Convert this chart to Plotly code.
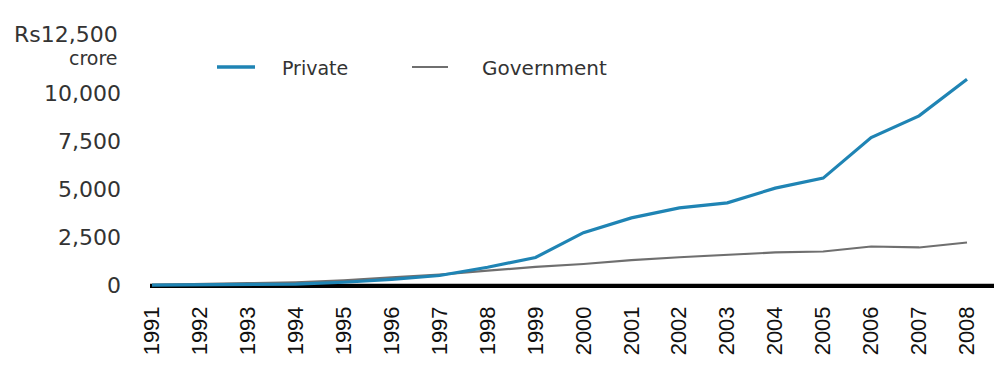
import plotly.graph_objects as go

years = list(range(1991, 2009))
private = [0, 10, 20, 50, 150, 300, 500, 930, 1440, 2730, 3500, 4020, 4280, 5050, 5570, 7680, 8810, 10720]
government = [20, 50, 100, 150, 250, 400, 550, 750, 950, 1100, 1300, 1450, 1560, 1700, 1750, 2010, 1960, 2220]
y_ticks = [0, 2500, 5000, 7500, 10000]
y_labels = ["0", "2,500", "5,000", "7,500", "10,000"]

PLOT_W = 994 - 148
PLOT_H = 376 - 45 - 88

def px(x):
    return (x - 148) / PLOT_W

def py(y):
    return 1 - (y - 45) / PLOT_H

LABEL_FONT = "DejaVu Sans"

fig = go.Figure()
fig.add_shape(type="line", xref="paper", x0=px(150), x1=1, yref="y", y0=-60, y1=-60,
              line=dict(color="black", width=5), layer="below")
fig.add_trace(go.Scatter(x=years, y=government, name="Government", mode="lines",
                         line=dict(color="#6f6f6f", width=2.2)))
fig.add_trace(go.Scatter(x=years, y=private, name="Private", mode="lines",
                         line=dict(color="#1f84b4", width=3.2)))

# legend drawn with shapes + annotations in paper coordinates
fig.add_shape(type="line", xref="paper", yref="paper", x0=px(217), x1=px(255), y0=py(67), y1=py(67),
              line=dict(color="#1f84b4", width=3.5))
fig.add_annotation(xref="paper", yref="paper", x=px(280), y=py(68), text="Private", showarrow=False,
                   xanchor="left", yanchor="middle", font=dict(family=LABEL_FONT, size=19, color="#333"))
fig.add_shape(type="line", xref="paper", yref="paper", x0=px(412), x1=px(448), y0=py(67), y1=py(67),
              line=dict(color="#6f6f6f", width=2))
fig.add_annotation(xref="paper", yref="paper", x=px(480), y=py(68), text="Government", showarrow=False,
                   xanchor="left", yanchor="middle", font=dict(family=LABEL_FONT, size=20, color="#333"))

fig.add_annotation(xref="paper", yref="paper", x=px(120), y=py(35), text="Rs12,500", showarrow=False,
                   xanchor="right", yanchor="middle", font=dict(family=LABEL_FONT, size=22, color="#333"))
fig.add_annotation(xref="paper", yref="paper", x=px(120), y=py(58), text="crore", showarrow=False,
                   xanchor="right", yanchor="middle", font=dict(family=LABEL_FONT, size=19, color="#333"))

fig.update_layout(
    width=994, height=376,
    margin=dict(l=148, r=0, t=45, b=88),
    plot_bgcolor="white", paper_bgcolor="white",
    showlegend=False,
    xaxis=dict(range=[1990.917, 2008.563], tickvals=years, ticktext=[str(y) for y in years],
               tickangle=-90, showgrid=False, zeroline=False, showline=False,
               tickfont=dict(family="Liberation Sans", size=22, color="#111"), ticks="",
               ticklabelstandoff=13),
    yaxis=dict(range=[-150, 12500], tickvals=y_ticks, ticktext=y_labels, showgrid=False,
               zeroline=False, showline=False, ticks="", ticklabelstandoff=26,
               tickfont=dict(family=LABEL_FONT, size=22, color="#333")),
)
fig.write_html("out.html")
